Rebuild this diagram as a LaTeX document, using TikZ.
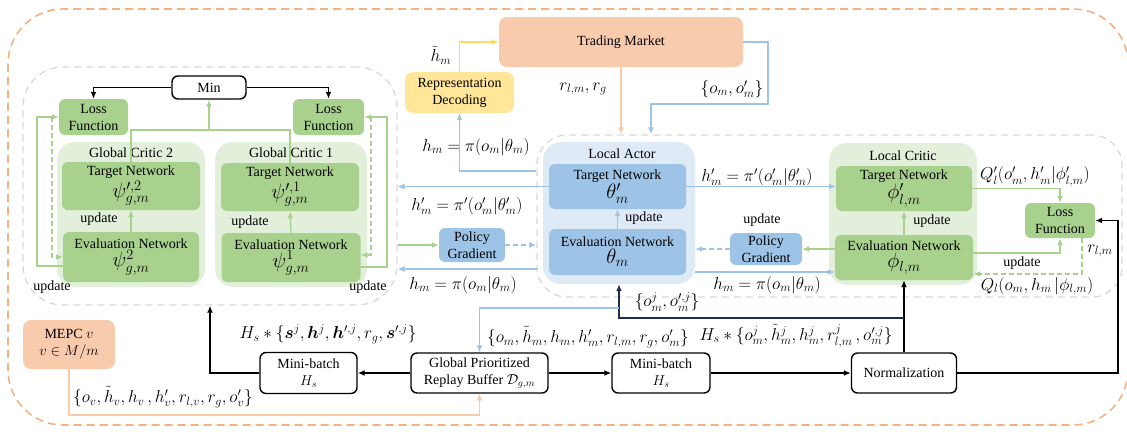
\documentclass[tikz,border=0pt]{standalone}
\usepackage{amsmath,bm}
\usepackage{fontspec}
\setmainfont{Liberation Serif}
\usetikzlibrary{arrows.meta}
\definecolor{gfill}{HTML}{A9D18E}
\definecolor{gcont}{HTML}{E2EFDA}
\definecolor{bfill}{HTML}{9DC3E6}
\definecolor{bcont}{HTML}{DEEBF7}
\definecolor{pfill}{HTML}{F8CBAD}
\definecolor{yfill}{HTML}{FFE699}
\definecolor{oline}{HTML}{F4B183}
\definecolor{grayd}{HTML}{D9D9D9}
\definecolor{ylin}{HTML}{FFD966}
\definecolor{navy}{HTML}{1F2D4D}
\newcommand{\bxm}[1]{{\fontsize{20}{20}\selectfont$#1$}}
\tikzset{
  sz/.style 2 args={minimum width=#1pt, minimum height=#2pt},
  gbox/.style={fill=gfill, rounded corners=6pt},
  bbox/.style={fill=bfill, rounded corners=6pt},
  pbox/.style={fill=pfill, rounded corners=8pt},
  ybox/.style={fill=yfill, rounded corners=8pt},
  kbox/.style={draw=black, line width=1.4pt, fill=white, rounded corners=6pt},
  gcontainer/.style={fill=gcont, rounded corners=18pt},
  bcontainer/.style={fill=bcont, rounded corners=18pt},
  region/.style={draw=grayd, line width=1.3pt, dash pattern=on 7pt off 5pt},
  gl/.style={draw=gfill, line width=1.3pt},
  bl/.style={draw=bfill, line width=1.3pt},
  pl/.style={draw=pfill, line width=1.3pt},
  yl/.style={draw=ylin, line width=1.3pt},
  kl/.style={draw=black, line width=1.5pt},
  nl/.style={draw=navy, line width=1.5pt},
  tip/.style={-{Latex[length=7pt,width=6pt]}},
  dsh/.style={dash pattern=on 5pt off 3pt},
  lab/.style={font=\fontsize{17}{20}\selectfont},
}
\begin{document}
\begin{tikzpicture}[x=1pt,y=-1pt,
  every node/.style={font=\fontsize{14}{17}\selectfont, align=center, inner sep=0pt}]
\useasboundingbox (0,0) rectangle (1127,431);
\draw[draw=oline, line width=1.6pt, dash pattern=on 8pt off 5pt, rounded corners=55pt] (8,9) rectangle (1128,425);
\node[region, rounded corners=40pt, sz={374}{238}] (GR) at (210,186) {};
\node[region, rounded corners=30pt, sz={585}{162}] (LR) at (829.5,216) {};

% ---------- global critics ----------
\node[kbox, sz={74}{23}] (Min) at (209,87.5) {Min};
\node[gbox, sz={69}{36}] (LossL) at (93.5,117) {Loss\\Function};
\node[gbox, sz={71}{36}] (LossR) at (328.5,117) {Loss\\Function};
\node[gcontainer, sz={148}{145}] (GC2) at (131,214.5) {};
\node[gcontainer, sz={152}{145}] (GC1) at (291,214.5) {};
\node (GC2t) at (131,153) {Global Critic 2};
\node (GC1t) at (291,153) {Global Critic 1};
\node[gbox, sz={138}{48}] (T2) at (131,186) {Target Network\\[1pt]\bxm{\psi_{g,m}^{\prime,2}}};
\node[gbox, sz={136}{50}] (E2) at (131,257) {Evaluation Network\\[1pt]\bxm{\psi_{g,m}^{2}}};
\node[gbox, sz={138}{48}] (T1) at (290,187) {Target Network\\[1pt]\bxm{\psi_{g,m}^{\prime,1}}};
\node[gbox, sz={139}{49}] (E1) at (291,257.5) {Evaluation Network\\[1pt]\bxm{\psi_{g,m}^{1}}};
\node (u2) at (99,219) {update};
\node (u1) at (250,222) {update};
\node (u3) at (52,287) {update};
\node (u4) at (368,287) {update};
\draw[gl,tip] (E2.north) -- (T2.south);
\draw[gl,tip] (E1.north) -- (T1.south);
\draw[kl,tip] (Min.west) -| (LossL.north);
\draw[kl,tip] (Min.east) -| (LossR.north);
\coordinate (j) at (0,130);
\draw[gl] (T2.north) -- (T2.north |- j) -- (T1.north |- j) -- (T1.north);
\draw[gl,tip] (Min.south |- j) -- (Min.south);
\coordinate (cl1) at (37,266);
\coordinate (cl2) at (52,117);
\draw[gl,tip] (E2.west |- cl1) -- (cl1) |- (LossL.west);
\draw[gl,dsh,tip] (cl2) |- (E2.west);
\coordinate (cr1) at (387,267);
\coordinate (cr2) at (371,117);
\draw[gl,tip] (E1.east |- cr1) -- (cr1) |- (LossR.east);
\draw[gl,dsh,tip] (cr2) |- ([yshift=2.5pt]E1.east);

% ---------- top ----------
\node[pbox, sz={244}{50}] (TM) at (621,42) {Trading Market};
\node[ybox, sz={109}{41}] (RD) at (459.5,92.5) {Representation\\Decoding};
\draw[yl,tip] (RD.north) |- (TM.west);
\node[lab] at (441,55) {$\tilde h_m$};
\draw[pl,tip] (TM.south) -- (TM.south |- LR.north);
\node[lab] at (583,89) {$r_{l,m}, r_g$};
\coordinate (tb1) at (768,104);
\coordinate (tb2) at (651,104);
\draw[bl,tip] (TM.east) -| (tb1) -- (tb2) -- (tb2 |- LR.north);
\node[lab] at (732,89) {$\{o_m, o_m'\}$};

% ---------- local actor ----------
\node[bcontainer, sz={152}{142}] (LA) at (619,213) {};
\node at (622,154) {Local Actor};
\node[bbox, sz={137}{45}] (Ta) at (617.5,186.5) {Target Network\\[0pt]\bxm{\theta_m'}};
\node[bbox, sz={137}{46}] (Ea) at (617.5,252) {Evaluation Network\\[0pt]\bxm{\theta_m}};
\draw[bl,tip] (Ea.north) -- (Ta.south);
\node at (644,218) {update};
\coordinate (ra) at (536,171);
\draw[bl,tip] (ra) -| (RD.south);
\node[lab] at (476,147) {$h_m = \pi(o_m|\theta_m)$};
\draw[bl,tip] (Ta.west) -- (Ta.west -| GR.east);
\node[lab] at (467,206) {$h_m' = \pi'(o_m'|\theta_m')$};
\node[bbox, sz={66}{34}] (PGL) at (472,245) {Policy\\Gradient};
\draw[gl,tip] (PGL.west -| GR.east) -- (PGL.west);
\draw[bl,dsh,tip] (PGL.east) -- (PGL.east -| LR.west);
\coordinate (la1) at (537,269);
\draw[bl,tip] (la1) -- (la1 -| GR.east);
\node[lab] at (463,285) {$h_m = \pi(o_m|\theta_m)$};

% ---------- local critic ----------
\node[gcontainer, sz={148}{142}] (LC) at (903,214) {};
\node at (903,156) {Local Critic};
\node[gbox, sz={136}{45}] (Tc) at (904,188.5) {Target Network\\[0pt]\bxm{\phi_{l,m}'}};
\node[gbox, sz={138}{45}] (Ec) at (904,257.5) {Evaluation Network\\[0pt]\bxm{\phi_{l,m}}};
\draw[gl,tip] (Ec.north) -- (Tc.south);
\node at (932,221) {update};
\draw[bl,tip] (Ta.east) -- (Ta.east -| Tc.west);
\node[lab] at (757,177) {$h_m' = \pi'(o_m'|\theta_m')$};
\node[bbox, sz={72}{32}] (PGR) at (766,249) {Policy\\Gradient};
\node at (762,220) {update};
\draw[gl,tip] (PGR.east -| Ec.west) -- (PGR.east);
\draw[bl,dsh,tip] (PGR.west) -- (PGR.west -| LA.east);
\coordinate (la2) at (695,272);
\draw[bl,tip] (la2) -- (la2 -| Ec.west);
\node[lab] at (767,285) {$h_m = \pi(o_m|\theta_m)$};
\node[gbox, sz={70}{35}] (LL) at (1060,220.5) {Loss\\Function};
\draw[gl,tip] (Tc.east) -| (LL.north);
\draw[gl,tip] ([yshift=4.5pt]Ec.east) -| (LL.south);
\draw[gl,dsh,tip] ([xshift=22pt]LL.south) |- ([yshift=-16.5pt]Ec.east);
\node[lab] at (1035,177) {$Q_l'(o_m', h_m'|\phi_{l,m}')$};
\node at (1022,263) {update};
\node[lab] at (1100,251) {$r_{l,m}$};
\node[lab] at (1037,286) {$Q_l(o_m, h_m\,|\phi_{l,m})$};

% ---------- bottom ----------
\node[kbox, sz={105}{40}] (Norm) at (904,373) {Normalization};
\node[kbox, sz={98}{40}] (MBR) at (661,373) {Mini-batch\\$H_s$};
\node[kbox, sz={137}{40}] (Buf) at (479.5,373) {Global Prioritized\\Replay Buffer $\mathcal{D}_{g,m}$};
\node[kbox, sz={97}{41}] (MBL) at (308.5,373) {Mini-batch\\$H_s$};
\node[pbox, sz={92}{49}] (MEPC) at (69,344.5) {MEPC $v$\\$v\in M/m$};
\draw[kl,tip] (Buf.east) -- (MBR.west);
\draw[kl,tip] (MBR.east) -- (Norm.west);
\draw[kl,tip] (Buf.west) -- (MBL.east);
\draw[kl,tip] (MBL.west) -| (GR.south);
\draw[kl,tip] (Norm.north) -- (Ec.south);
\coordinate (n1) at (1118,373);
\draw[kl,tip] (Norm.east) -- (n1) |- (LL.east);
\coordinate (n2) at (904,318);
\draw[nl,tip] (n2) -| (LA.south);
\coordinate (n3) at (619,308);
\draw[bl,tip] (n3) -| (Buf.north);
\coordinate (m1) at (69,415);
\draw[pl,tip] (MEPC.south) -- (m1) -| (Buf.south);
\node[lab] at (667,302) {$\{o_m^j, o_m^{\prime,j}\}$};
\node[lab] at (588,337) {$\{o_m, \tilde h_m, h_m, h_m', r_{l,m}, r_g, o_m'\}$};
\node[lab] at (796,336) {$H_s * \{o_m^j, \tilde h_m^j, h_m^j, r_{l,m}^j\,, o_m^{\prime,j}\}$};
\node[lab] at (328,334) {$H_s * \{\bm{s}^j, \bm{h}^j, \bm{h}^{\prime,j}, r_g, \bm{s}^{\prime,j}\}$};
\node[lab] at (163,397) {$\{o_v, \tilde h_v, h_v\,, h_v', r_{l,v}, r_g, o_v'\}$};
\end{tikzpicture}
\end{document}
